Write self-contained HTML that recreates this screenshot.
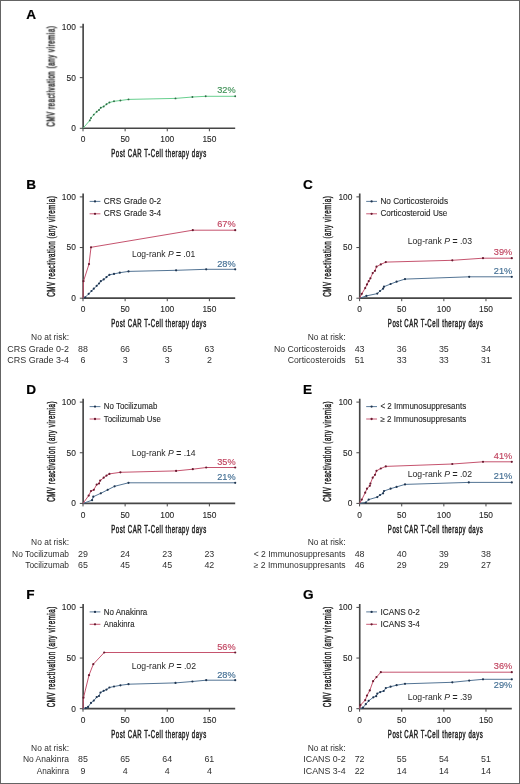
<!DOCTYPE html>
<html><head><meta charset="utf-8"><title>CMV reactivation</title>
<style>
html,body{margin:0;padding:0;background:#fff;}
body{width:520px;height:784px;overflow:hidden;}
svg{display:block;font-family:"Liberation Sans", sans-serif;will-change:transform;}
</style></head>
<body>
<svg width="520" height="784" viewBox="0 0 520 784">
<rect x="0.5" y="0.5" width="519" height="783" fill="#fff" stroke="#646464" stroke-width="1"/>
<text x="26.30" y="18.70" font-size="13.6" fill="#000" font-weight="bold" stroke="#000" stroke-width="0.2">A</text>
<path d="M83.13 23.70V128.20H235.20" fill="none" stroke="#464646" stroke-width="1.65"/>
<path d="M79.8 128.30H83.0" stroke="#464646" stroke-width="1"/>
<text x="75.8" y="131.20" font-size="8.4" fill="#262626" text-anchor="end" stroke="#262626" stroke-width="0.1">0</text>
<path d="M79.8 77.65H83.0" stroke="#464646" stroke-width="1"/>
<text x="75.8" y="80.55" font-size="8.4" fill="#262626" text-anchor="end" stroke="#262626" stroke-width="0.1">50</text>
<path d="M79.8 27.00H83.0" stroke="#464646" stroke-width="1"/>
<text x="75.8" y="29.90" font-size="8.4" fill="#262626" text-anchor="end" stroke="#262626" stroke-width="0.1">100</text>
<path d="M83.00 128.3V131.3" stroke="#464646" stroke-width="1"/>
<text x="83.00" y="142.40" font-size="8.4" fill="#262626" text-anchor="middle" stroke="#262626" stroke-width="0.1">0</text>
<path d="M125.12 128.3V131.3" stroke="#464646" stroke-width="1"/>
<text x="125.12" y="142.40" font-size="8.4" fill="#262626" text-anchor="middle" stroke="#262626" stroke-width="0.1">50</text>
<path d="M167.25 128.3V131.3" stroke="#464646" stroke-width="1"/>
<text x="167.25" y="142.40" font-size="8.4" fill="#262626" text-anchor="middle" stroke="#262626" stroke-width="0.1">100</text>
<path d="M209.38 128.3V131.3" stroke="#464646" stroke-width="1"/>
<text x="209.38" y="142.40" font-size="8.4" fill="#262626" text-anchor="middle" stroke="#262626" stroke-width="0.1">150</text>
<text x="159.00" y="157.40" font-size="10.6" fill="#222" stroke="#222" stroke-width="0.5" letter-spacing="1.0" text-anchor="middle" textLength="95.5" lengthAdjust="spacingAndGlyphs">Post CAR T-Cell therapy days</text>
<text transform="translate(54.60 76.25) rotate(-90)" x="0" y="0" font-size="11" fill="#222" stroke="#222" stroke-width="0.5" letter-spacing="1.0" text-anchor="middle" textLength="101" lengthAdjust="spacingAndGlyphs">CMV reactivation (any viremia)</text>
<path d="M83.00 128.30 L89.80 120.40 L91.00 118.00 L93.80 114.60 L96.70 111.70 L99.00 110.00 L100.80 107.70 L103.70 106.50 L106.50 104.20 L109.40 102.50 L114.00 101.30 L120.40 100.50 L128.50 99.40 L175.50 98.40 L192.40 97.00 L205.70 96.30 L235.20 96.30" fill="none" stroke="#5fcc88" stroke-width="0.95" stroke-linejoin="round"/>
<circle cx="89.80" cy="120.40" r="0.95" fill="#2e6b45"/>
<circle cx="91.00" cy="118.00" r="0.95" fill="#2e6b45"/>
<circle cx="93.80" cy="114.60" r="0.95" fill="#2e6b45"/>
<circle cx="96.70" cy="111.70" r="0.95" fill="#2e6b45"/>
<circle cx="99.00" cy="110.00" r="0.95" fill="#2e6b45"/>
<circle cx="100.80" cy="107.70" r="0.95" fill="#2e6b45"/>
<circle cx="103.70" cy="106.50" r="0.95" fill="#2e6b45"/>
<circle cx="106.50" cy="104.20" r="0.95" fill="#2e6b45"/>
<circle cx="109.40" cy="102.50" r="0.95" fill="#2e6b45"/>
<circle cx="114.00" cy="101.30" r="0.95" fill="#2e6b45"/>
<circle cx="120.40" cy="100.50" r="0.95" fill="#2e6b45"/>
<circle cx="128.50" cy="99.40" r="0.95" fill="#2e6b45"/>
<circle cx="175.50" cy="98.40" r="0.95" fill="#2e6b45"/>
<circle cx="192.40" cy="97.00" r="0.95" fill="#2e6b45"/>
<circle cx="205.70" cy="96.30" r="0.95" fill="#2e6b45"/>
<circle cx="235.20" cy="96.30" r="0.95" fill="#2e6b45"/>
<text x="235.60" y="92.90" font-size="9.8" fill="#419258" text-anchor="end" textLength="18.4" lengthAdjust="spacingAndGlyphs" stroke="#419258" stroke-width="0.15">32%</text>
<text x="26.30" y="188.60" font-size="13.6" fill="#000" font-weight="bold" stroke="#000" stroke-width="0.2">B</text>
<path d="M83.13 193.60V298.10H235.20" fill="none" stroke="#464646" stroke-width="1.65"/>
<path d="M79.8 298.20H83.0" stroke="#464646" stroke-width="1"/>
<text x="75.8" y="301.10" font-size="8.4" fill="#262626" text-anchor="end" stroke="#262626" stroke-width="0.1">0</text>
<path d="M79.8 247.55H83.0" stroke="#464646" stroke-width="1"/>
<text x="75.8" y="250.45" font-size="8.4" fill="#262626" text-anchor="end" stroke="#262626" stroke-width="0.1">50</text>
<path d="M79.8 196.90H83.0" stroke="#464646" stroke-width="1"/>
<text x="75.8" y="199.80" font-size="8.4" fill="#262626" text-anchor="end" stroke="#262626" stroke-width="0.1">100</text>
<path d="M83.00 298.2V301.2" stroke="#464646" stroke-width="1"/>
<text x="83.00" y="312.30" font-size="8.4" fill="#262626" text-anchor="middle" stroke="#262626" stroke-width="0.1">0</text>
<path d="M125.12 298.2V301.2" stroke="#464646" stroke-width="1"/>
<text x="125.12" y="312.30" font-size="8.4" fill="#262626" text-anchor="middle" stroke="#262626" stroke-width="0.1">50</text>
<path d="M167.25 298.2V301.2" stroke="#464646" stroke-width="1"/>
<text x="167.25" y="312.30" font-size="8.4" fill="#262626" text-anchor="middle" stroke="#262626" stroke-width="0.1">100</text>
<path d="M209.38 298.2V301.2" stroke="#464646" stroke-width="1"/>
<text x="209.38" y="312.30" font-size="8.4" fill="#262626" text-anchor="middle" stroke="#262626" stroke-width="0.1">150</text>
<text x="159.00" y="327.30" font-size="10.6" fill="#222" stroke="#222" stroke-width="0.5" letter-spacing="1.0" text-anchor="middle" textLength="95.5" lengthAdjust="spacingAndGlyphs">Post CAR T-Cell therapy days</text>
<text transform="translate(54.60 246.15) rotate(-90)" x="0" y="0" font-size="11" fill="#222" stroke="#222" stroke-width="0.5" letter-spacing="1.0" text-anchor="middle" textLength="101" lengthAdjust="spacingAndGlyphs">CMV reactivation (any viremia)</text>
<path d="M89.6 201.40H100.4" stroke="#4a6d8e" stroke-width="0.9"/>
<circle cx="95.0" cy="201.40" r="1.15" fill="#1f3550"/>
<text x="103.80" y="204.00" font-size="8.2" fill="#262626" textLength="57.4" lengthAdjust="spacingAndGlyphs" stroke="#262626" stroke-width="0.1">CRS Grade 0-2</text>
<path d="M89.6 213.80H100.4" stroke="#c24a66" stroke-width="0.9"/>
<circle cx="95.0" cy="213.80" r="1.15" fill="#6a1a30"/>
<text x="103.80" y="216.40" font-size="8.2" fill="#262626" textLength="57.4" lengthAdjust="spacingAndGlyphs" stroke="#262626" stroke-width="0.1">CRS Grade 3-4</text>
<text x="131.90" y="257.20" font-size="9.2" fill="#262626" textLength="63.3" lengthAdjust="spacingAndGlyphs">Log-rank <tspan font-style="italic">P</tspan> <tspan font-weight="bold">=</tspan> .01</text>
<path d="M83.00 298.20 L85.20 297.30 L88.70 293.80 L91.50 291.00 L93.80 288.70 L96.70 285.80 L99.00 283.50 L100.80 281.20 L103.70 279.40 L106.50 277.10 L109.40 274.80 L114.00 273.90 L119.80 272.70 L128.50 271.40 L176.10 270.30 L206.20 269.30 L235.20 269.30" fill="none" stroke="#4a6d8e" stroke-width="0.95" stroke-linejoin="round"/>
<circle cx="85.20" cy="297.30" r="1.1" fill="#1f3550"/>
<circle cx="88.70" cy="293.80" r="1.1" fill="#1f3550"/>
<circle cx="91.50" cy="291.00" r="1.1" fill="#1f3550"/>
<circle cx="93.80" cy="288.70" r="1.1" fill="#1f3550"/>
<circle cx="96.70" cy="285.80" r="1.1" fill="#1f3550"/>
<circle cx="99.00" cy="283.50" r="1.1" fill="#1f3550"/>
<circle cx="100.80" cy="281.20" r="1.1" fill="#1f3550"/>
<circle cx="103.70" cy="279.40" r="1.1" fill="#1f3550"/>
<circle cx="106.50" cy="277.10" r="1.1" fill="#1f3550"/>
<circle cx="109.40" cy="274.80" r="1.1" fill="#1f3550"/>
<circle cx="114.00" cy="273.90" r="1.1" fill="#1f3550"/>
<circle cx="119.80" cy="272.70" r="1.1" fill="#1f3550"/>
<circle cx="128.50" cy="271.40" r="1.1" fill="#1f3550"/>
<circle cx="176.10" cy="270.30" r="1.1" fill="#1f3550"/>
<circle cx="206.20" cy="269.30" r="1.1" fill="#1f3550"/>
<circle cx="235.20" cy="269.30" r="1.1" fill="#1f3550"/>
<path d="M83.00 298.20 L83.50 281.20 L89.00 264.10 L91.00 247.30 L192.80 230.20 L235.20 230.20" fill="none" stroke="#c24a66" stroke-width="0.95" stroke-linejoin="round"/>
<circle cx="83.50" cy="281.20" r="1.1" fill="#6a1a30"/>
<circle cx="89.00" cy="264.10" r="1.1" fill="#6a1a30"/>
<circle cx="91.00" cy="247.30" r="1.1" fill="#6a1a30"/>
<circle cx="192.80" cy="230.20" r="1.1" fill="#6a1a30"/>
<circle cx="235.20" cy="230.20" r="1.1" fill="#6a1a30"/>
<text x="235.60" y="227.40" font-size="9.8" fill="#c0435f" text-anchor="end" textLength="18.4" lengthAdjust="spacingAndGlyphs" stroke="#c0435f" stroke-width="0.15">67%</text>
<text x="235.60" y="267.00" font-size="9.8" fill="#416d92" text-anchor="end" textLength="18.4" lengthAdjust="spacingAndGlyphs" stroke="#416d92" stroke-width="0.15">28%</text>
<text x="69.0" y="340.10" font-size="8.9" fill="#303030" text-anchor="end" textLength="37.9" lengthAdjust="spacingAndGlyphs">No at risk:</text>
<text x="69.0" y="351.60" font-size="8.9" fill="#303030" text-anchor="end" textLength="61.7" lengthAdjust="spacingAndGlyphs">CRS Grade 0-2</text>
<text x="83.00" y="351.60" font-size="8.9" fill="#303030" text-anchor="middle">88</text>
<text x="125.12" y="351.60" font-size="8.9" fill="#303030" text-anchor="middle">66</text>
<text x="167.25" y="351.60" font-size="8.9" fill="#303030" text-anchor="middle">65</text>
<text x="209.38" y="351.60" font-size="8.9" fill="#303030" text-anchor="middle">63</text>
<text x="69.0" y="363.10" font-size="8.9" fill="#303030" text-anchor="end" textLength="61.7" lengthAdjust="spacingAndGlyphs">CRS Grade 3-4</text>
<text x="83.00" y="363.10" font-size="8.9" fill="#303030" text-anchor="middle">6</text>
<text x="125.12" y="363.10" font-size="8.9" fill="#303030" text-anchor="middle">3</text>
<text x="167.25" y="363.10" font-size="8.9" fill="#303030" text-anchor="middle">3</text>
<text x="209.38" y="363.10" font-size="8.9" fill="#303030" text-anchor="middle">2</text>
<text x="302.90" y="188.60" font-size="13.6" fill="#000" font-weight="bold" stroke="#000" stroke-width="0.2">C</text>
<path d="M359.73 193.60V298.10H511.80" fill="none" stroke="#464646" stroke-width="1.65"/>
<path d="M356.40000000000003 298.20H359.6" stroke="#464646" stroke-width="1"/>
<text x="352.40000000000003" y="301.10" font-size="8.4" fill="#262626" text-anchor="end" stroke="#262626" stroke-width="0.1">0</text>
<path d="M356.40000000000003 247.55H359.6" stroke="#464646" stroke-width="1"/>
<text x="352.40000000000003" y="250.45" font-size="8.4" fill="#262626" text-anchor="end" stroke="#262626" stroke-width="0.1">50</text>
<path d="M356.40000000000003 196.90H359.6" stroke="#464646" stroke-width="1"/>
<text x="352.40000000000003" y="199.80" font-size="8.4" fill="#262626" text-anchor="end" stroke="#262626" stroke-width="0.1">100</text>
<path d="M359.60 298.2V301.2" stroke="#464646" stroke-width="1"/>
<text x="359.60" y="312.30" font-size="8.4" fill="#262626" text-anchor="middle" stroke="#262626" stroke-width="0.1">0</text>
<path d="M401.73 298.2V301.2" stroke="#464646" stroke-width="1"/>
<text x="401.73" y="312.30" font-size="8.4" fill="#262626" text-anchor="middle" stroke="#262626" stroke-width="0.1">50</text>
<path d="M443.85 298.2V301.2" stroke="#464646" stroke-width="1"/>
<text x="443.85" y="312.30" font-size="8.4" fill="#262626" text-anchor="middle" stroke="#262626" stroke-width="0.1">100</text>
<path d="M485.98 298.2V301.2" stroke="#464646" stroke-width="1"/>
<text x="485.98" y="312.30" font-size="8.4" fill="#262626" text-anchor="middle" stroke="#262626" stroke-width="0.1">150</text>
<text x="435.60" y="327.30" font-size="10.6" fill="#222" stroke="#222" stroke-width="0.5" letter-spacing="1.0" text-anchor="middle" textLength="95.5" lengthAdjust="spacingAndGlyphs">Post CAR T-Cell therapy days</text>
<text transform="translate(331.20 246.15) rotate(-90)" x="0" y="0" font-size="11" fill="#222" stroke="#222" stroke-width="0.5" letter-spacing="1.0" text-anchor="middle" textLength="101" lengthAdjust="spacingAndGlyphs">CMV reactivation (any viremia)</text>
<path d="M366.20000000000005 201.40H377.0" stroke="#4a6d8e" stroke-width="0.9"/>
<circle cx="371.6" cy="201.40" r="1.15" fill="#1f3550"/>
<text x="380.40" y="204.00" font-size="8.2" fill="#262626" textLength="67.6" lengthAdjust="spacingAndGlyphs" stroke="#262626" stroke-width="0.1">No Corticosteroids</text>
<path d="M366.20000000000005 213.80H377.0" stroke="#c24a66" stroke-width="0.9"/>
<circle cx="371.6" cy="213.80" r="1.15" fill="#6a1a30"/>
<text x="380.40" y="216.40" font-size="8.2" fill="#262626" textLength="67.0" lengthAdjust="spacingAndGlyphs" stroke="#262626" stroke-width="0.1">Corticosteroid Use</text>
<text x="407.70" y="244.20" font-size="9.2" fill="#262626" textLength="64.3" lengthAdjust="spacingAndGlyphs">Log-rank <tspan font-style="italic">P</tspan> <tspan font-weight="bold">=</tspan> .03</text>
<path d="M359.60 298.20 L366.40 295.90 L377.30 293.60 L380.00 291.00 L383.10 288.70 L384.00 286.70 L390.60 284.00 L396.60 281.70 L405.00 279.10 L469.20 276.80 L511.80 276.80" fill="none" stroke="#4a6d8e" stroke-width="0.95" stroke-linejoin="round"/>
<circle cx="366.40" cy="295.90" r="1.1" fill="#1f3550"/>
<circle cx="377.30" cy="293.60" r="1.1" fill="#1f3550"/>
<circle cx="380.00" cy="291.00" r="1.1" fill="#1f3550"/>
<circle cx="383.10" cy="288.70" r="1.1" fill="#1f3550"/>
<circle cx="384.00" cy="286.70" r="1.1" fill="#1f3550"/>
<circle cx="390.60" cy="284.00" r="1.1" fill="#1f3550"/>
<circle cx="396.60" cy="281.70" r="1.1" fill="#1f3550"/>
<circle cx="405.00" cy="279.10" r="1.1" fill="#1f3550"/>
<circle cx="469.20" cy="276.80" r="1.1" fill="#1f3550"/>
<circle cx="511.80" cy="276.80" r="1.1" fill="#1f3550"/>
<path d="M359.60 298.20 L361.80 293.80 L365.20 288.10 L367.00 284.40 L368.70 281.20 L370.40 278.30 L372.70 273.10 L375.00 270.80 L376.50 266.70 L380.80 264.40 L385.80 262.10 L452.30 260.30 L483.00 258.20 L511.80 258.20" fill="none" stroke="#c24a66" stroke-width="0.95" stroke-linejoin="round"/>
<circle cx="361.80" cy="293.80" r="1.1" fill="#6a1a30"/>
<circle cx="365.20" cy="288.10" r="1.1" fill="#6a1a30"/>
<circle cx="367.00" cy="284.40" r="1.1" fill="#6a1a30"/>
<circle cx="368.70" cy="281.20" r="1.1" fill="#6a1a30"/>
<circle cx="370.40" cy="278.30" r="1.1" fill="#6a1a30"/>
<circle cx="372.70" cy="273.10" r="1.1" fill="#6a1a30"/>
<circle cx="375.00" cy="270.80" r="1.1" fill="#6a1a30"/>
<circle cx="376.50" cy="266.70" r="1.1" fill="#6a1a30"/>
<circle cx="380.80" cy="264.40" r="1.1" fill="#6a1a30"/>
<circle cx="385.80" cy="262.10" r="1.1" fill="#6a1a30"/>
<circle cx="452.30" cy="260.30" r="1.1" fill="#6a1a30"/>
<circle cx="483.00" cy="258.20" r="1.1" fill="#6a1a30"/>
<circle cx="511.80" cy="258.20" r="1.1" fill="#6a1a30"/>
<text x="512.20" y="255.20" font-size="9.8" fill="#c0435f" text-anchor="end" textLength="18.4" lengthAdjust="spacingAndGlyphs" stroke="#c0435f" stroke-width="0.15">39%</text>
<text x="512.20" y="273.80" font-size="9.8" fill="#416d92" text-anchor="end" textLength="18.4" lengthAdjust="spacingAndGlyphs" stroke="#416d92" stroke-width="0.15">21%</text>
<text x="345.6" y="340.10" font-size="8.9" fill="#303030" text-anchor="end" textLength="37.9" lengthAdjust="spacingAndGlyphs">No at risk:</text>
<text x="345.6" y="351.60" font-size="8.9" fill="#303030" text-anchor="end" textLength="71.7" lengthAdjust="spacingAndGlyphs">No Corticosteroids</text>
<text x="359.60" y="351.60" font-size="8.9" fill="#303030" text-anchor="middle">43</text>
<text x="401.73" y="351.60" font-size="8.9" fill="#303030" text-anchor="middle">36</text>
<text x="443.85" y="351.60" font-size="8.9" fill="#303030" text-anchor="middle">35</text>
<text x="485.98" y="351.60" font-size="8.9" fill="#303030" text-anchor="middle">34</text>
<text x="345.6" y="363.10" font-size="8.9" fill="#303030" text-anchor="end" textLength="57.9" lengthAdjust="spacingAndGlyphs">Corticosteroids</text>
<text x="359.60" y="363.10" font-size="8.9" fill="#303030" text-anchor="middle">51</text>
<text x="401.73" y="363.10" font-size="8.9" fill="#303030" text-anchor="middle">33</text>
<text x="443.85" y="363.10" font-size="8.9" fill="#303030" text-anchor="middle">33</text>
<text x="485.98" y="363.10" font-size="8.9" fill="#303030" text-anchor="middle">31</text>
<text x="26.30" y="393.80" font-size="13.6" fill="#000" font-weight="bold" stroke="#000" stroke-width="0.2">D</text>
<path d="M83.13 398.80V503.30H235.20" fill="none" stroke="#464646" stroke-width="1.65"/>
<path d="M79.8 503.40H83.0" stroke="#464646" stroke-width="1"/>
<text x="75.8" y="506.30" font-size="8.4" fill="#262626" text-anchor="end" stroke="#262626" stroke-width="0.1">0</text>
<path d="M79.8 452.75H83.0" stroke="#464646" stroke-width="1"/>
<text x="75.8" y="455.65" font-size="8.4" fill="#262626" text-anchor="end" stroke="#262626" stroke-width="0.1">50</text>
<path d="M79.8 402.10H83.0" stroke="#464646" stroke-width="1"/>
<text x="75.8" y="405.00" font-size="8.4" fill="#262626" text-anchor="end" stroke="#262626" stroke-width="0.1">100</text>
<path d="M83.00 503.40000000000003V506.40000000000003" stroke="#464646" stroke-width="1"/>
<text x="83.00" y="517.50" font-size="8.4" fill="#262626" text-anchor="middle" stroke="#262626" stroke-width="0.1">0</text>
<path d="M125.12 503.40000000000003V506.40000000000003" stroke="#464646" stroke-width="1"/>
<text x="125.12" y="517.50" font-size="8.4" fill="#262626" text-anchor="middle" stroke="#262626" stroke-width="0.1">50</text>
<path d="M167.25 503.40000000000003V506.40000000000003" stroke="#464646" stroke-width="1"/>
<text x="167.25" y="517.50" font-size="8.4" fill="#262626" text-anchor="middle" stroke="#262626" stroke-width="0.1">100</text>
<path d="M209.38 503.40000000000003V506.40000000000003" stroke="#464646" stroke-width="1"/>
<text x="209.38" y="517.50" font-size="8.4" fill="#262626" text-anchor="middle" stroke="#262626" stroke-width="0.1">150</text>
<text x="159.00" y="532.50" font-size="10.6" fill="#222" stroke="#222" stroke-width="0.5" letter-spacing="1.0" text-anchor="middle" textLength="95.5" lengthAdjust="spacingAndGlyphs">Post CAR T-Cell therapy days</text>
<text transform="translate(54.60 451.35) rotate(-90)" x="0" y="0" font-size="11" fill="#222" stroke="#222" stroke-width="0.5" letter-spacing="1.0" text-anchor="middle" textLength="101" lengthAdjust="spacingAndGlyphs">CMV reactivation (any viremia)</text>
<path d="M89.6 406.60H100.4" stroke="#4a6d8e" stroke-width="0.9"/>
<circle cx="95.0" cy="406.60" r="1.15" fill="#1f3550"/>
<text x="103.80" y="409.20" font-size="8.2" fill="#262626" textLength="53.5" lengthAdjust="spacingAndGlyphs" stroke="#262626" stroke-width="0.1">No Tocilizumab</text>
<path d="M89.6 419.00H100.4" stroke="#c24a66" stroke-width="0.9"/>
<circle cx="95.0" cy="419.00" r="1.15" fill="#6a1a30"/>
<text x="103.80" y="421.60" font-size="8.2" fill="#262626" textLength="57.0" lengthAdjust="spacingAndGlyphs" stroke="#262626" stroke-width="0.1">Tocilizumab Use</text>
<text x="131.70" y="455.90" font-size="9.2" fill="#262626" textLength="63.9" lengthAdjust="spacingAndGlyphs">Log-rank <tspan font-style="italic">P</tspan> <tspan font-weight="bold">=</tspan> .14</text>
<path d="M83.00 503.40 L92.10 500.20 L93.30 496.70 L100.80 493.30 L107.70 489.80 L114.60 486.30 L128.50 482.80 L235.20 482.80" fill="none" stroke="#4a6d8e" stroke-width="0.95" stroke-linejoin="round"/>
<circle cx="92.10" cy="500.20" r="1.1" fill="#1f3550"/>
<circle cx="93.30" cy="496.70" r="1.1" fill="#1f3550"/>
<circle cx="100.80" cy="493.30" r="1.1" fill="#1f3550"/>
<circle cx="107.70" cy="489.80" r="1.1" fill="#1f3550"/>
<circle cx="114.60" cy="486.30" r="1.1" fill="#1f3550"/>
<circle cx="128.50" cy="482.80" r="1.1" fill="#1f3550"/>
<circle cx="235.20" cy="482.80" r="1.1" fill="#1f3550"/>
<path d="M83.00 503.40 L88.70 495.60 L91.00 491.00 L93.80 489.80 L96.70 484.60 L99.00 483.50 L100.20 480.60 L103.70 477.70 L106.50 475.60 L109.40 473.90 L120.40 472.30 L176.10 470.90 L192.80 469.20 L206.20 467.50 L235.20 467.50" fill="none" stroke="#c24a66" stroke-width="0.95" stroke-linejoin="round"/>
<circle cx="88.70" cy="495.60" r="1.1" fill="#6a1a30"/>
<circle cx="91.00" cy="491.00" r="1.1" fill="#6a1a30"/>
<circle cx="93.80" cy="489.80" r="1.1" fill="#6a1a30"/>
<circle cx="96.70" cy="484.60" r="1.1" fill="#6a1a30"/>
<circle cx="99.00" cy="483.50" r="1.1" fill="#6a1a30"/>
<circle cx="100.20" cy="480.60" r="1.1" fill="#6a1a30"/>
<circle cx="103.70" cy="477.70" r="1.1" fill="#6a1a30"/>
<circle cx="106.50" cy="475.60" r="1.1" fill="#6a1a30"/>
<circle cx="109.40" cy="473.90" r="1.1" fill="#6a1a30"/>
<circle cx="120.40" cy="472.30" r="1.1" fill="#6a1a30"/>
<circle cx="176.10" cy="470.90" r="1.1" fill="#6a1a30"/>
<circle cx="192.80" cy="469.20" r="1.1" fill="#6a1a30"/>
<circle cx="206.20" cy="467.50" r="1.1" fill="#6a1a30"/>
<circle cx="235.20" cy="467.50" r="1.1" fill="#6a1a30"/>
<text x="235.60" y="464.80" font-size="9.8" fill="#c0435f" text-anchor="end" textLength="18.4" lengthAdjust="spacingAndGlyphs" stroke="#c0435f" stroke-width="0.15">35%</text>
<text x="235.60" y="479.80" font-size="9.8" fill="#416d92" text-anchor="end" textLength="18.4" lengthAdjust="spacingAndGlyphs" stroke="#416d92" stroke-width="0.15">21%</text>
<text x="69.0" y="545.30" font-size="8.9" fill="#303030" text-anchor="end" textLength="37.9" lengthAdjust="spacingAndGlyphs">No at risk:</text>
<text x="69.0" y="556.80" font-size="8.9" fill="#303030" text-anchor="end" textLength="56.9" lengthAdjust="spacingAndGlyphs">No Tocilizumab</text>
<text x="83.00" y="556.80" font-size="8.9" fill="#303030" text-anchor="middle">29</text>
<text x="125.12" y="556.80" font-size="8.9" fill="#303030" text-anchor="middle">24</text>
<text x="167.25" y="556.80" font-size="8.9" fill="#303030" text-anchor="middle">23</text>
<text x="209.38" y="556.80" font-size="8.9" fill="#303030" text-anchor="middle">23</text>
<text x="69.0" y="568.30" font-size="8.9" fill="#303030" text-anchor="end" textLength="43.8" lengthAdjust="spacingAndGlyphs">Tocilizumab</text>
<text x="83.00" y="568.30" font-size="8.9" fill="#303030" text-anchor="middle">65</text>
<text x="125.12" y="568.30" font-size="8.9" fill="#303030" text-anchor="middle">45</text>
<text x="167.25" y="568.30" font-size="8.9" fill="#303030" text-anchor="middle">45</text>
<text x="209.38" y="568.30" font-size="8.9" fill="#303030" text-anchor="middle">42</text>
<text x="302.90" y="393.80" font-size="13.6" fill="#000" font-weight="bold" stroke="#000" stroke-width="0.2">E</text>
<path d="M359.73 398.80V503.30H511.80" fill="none" stroke="#464646" stroke-width="1.65"/>
<path d="M356.40000000000003 503.40H359.6" stroke="#464646" stroke-width="1"/>
<text x="352.40000000000003" y="506.30" font-size="8.4" fill="#262626" text-anchor="end" stroke="#262626" stroke-width="0.1">0</text>
<path d="M356.40000000000003 452.75H359.6" stroke="#464646" stroke-width="1"/>
<text x="352.40000000000003" y="455.65" font-size="8.4" fill="#262626" text-anchor="end" stroke="#262626" stroke-width="0.1">50</text>
<path d="M356.40000000000003 402.10H359.6" stroke="#464646" stroke-width="1"/>
<text x="352.40000000000003" y="405.00" font-size="8.4" fill="#262626" text-anchor="end" stroke="#262626" stroke-width="0.1">100</text>
<path d="M359.60 503.40000000000003V506.40000000000003" stroke="#464646" stroke-width="1"/>
<text x="359.60" y="517.50" font-size="8.4" fill="#262626" text-anchor="middle" stroke="#262626" stroke-width="0.1">0</text>
<path d="M401.73 503.40000000000003V506.40000000000003" stroke="#464646" stroke-width="1"/>
<text x="401.73" y="517.50" font-size="8.4" fill="#262626" text-anchor="middle" stroke="#262626" stroke-width="0.1">50</text>
<path d="M443.85 503.40000000000003V506.40000000000003" stroke="#464646" stroke-width="1"/>
<text x="443.85" y="517.50" font-size="8.4" fill="#262626" text-anchor="middle" stroke="#262626" stroke-width="0.1">100</text>
<path d="M485.98 503.40000000000003V506.40000000000003" stroke="#464646" stroke-width="1"/>
<text x="485.98" y="517.50" font-size="8.4" fill="#262626" text-anchor="middle" stroke="#262626" stroke-width="0.1">150</text>
<text x="435.60" y="532.50" font-size="10.6" fill="#222" stroke="#222" stroke-width="0.5" letter-spacing="1.0" text-anchor="middle" textLength="95.5" lengthAdjust="spacingAndGlyphs">Post CAR T-Cell therapy days</text>
<text transform="translate(331.20 451.35) rotate(-90)" x="0" y="0" font-size="11" fill="#222" stroke="#222" stroke-width="0.5" letter-spacing="1.0" text-anchor="middle" textLength="101" lengthAdjust="spacingAndGlyphs">CMV reactivation (any viremia)</text>
<path d="M366.20000000000005 406.60H377.0" stroke="#4a6d8e" stroke-width="0.9"/>
<circle cx="371.6" cy="406.60" r="1.15" fill="#1f3550"/>
<text x="380.40" y="409.20" font-size="8.2" fill="#262626" textLength="85.8" lengthAdjust="spacingAndGlyphs" stroke="#262626" stroke-width="0.1">&lt; 2 Immunosuppresants</text>
<path d="M366.20000000000005 419.00H377.0" stroke="#c24a66" stroke-width="0.9"/>
<circle cx="371.6" cy="419.00" r="1.15" fill="#6a1a30"/>
<text x="380.40" y="421.60" font-size="8.2" fill="#262626" textLength="85.8" lengthAdjust="spacingAndGlyphs" stroke="#262626" stroke-width="0.1">&#8805; 2 Immunosuppresants</text>
<text x="407.70" y="476.60" font-size="9.2" fill="#262626" textLength="64.3" lengthAdjust="spacingAndGlyphs">Log-rank <tspan font-style="italic">P</tspan> <tspan font-weight="bold">=</tspan> .02</text>
<path d="M359.60 503.40 L365.80 502.50 L368.70 499.60 L377.30 497.10 L380.00 495.00 L383.10 493.30 L384.00 491.00 L390.60 488.70 L396.60 486.90 L405.00 484.40 L468.80 482.40 L511.80 482.40" fill="none" stroke="#4a6d8e" stroke-width="0.95" stroke-linejoin="round"/>
<circle cx="365.80" cy="502.50" r="1.1" fill="#1f3550"/>
<circle cx="368.70" cy="499.60" r="1.1" fill="#1f3550"/>
<circle cx="377.30" cy="497.10" r="1.1" fill="#1f3550"/>
<circle cx="380.00" cy="495.00" r="1.1" fill="#1f3550"/>
<circle cx="383.10" cy="493.30" r="1.1" fill="#1f3550"/>
<circle cx="384.00" cy="491.00" r="1.1" fill="#1f3550"/>
<circle cx="390.60" cy="488.70" r="1.1" fill="#1f3550"/>
<circle cx="396.60" cy="486.90" r="1.1" fill="#1f3550"/>
<circle cx="405.00" cy="484.40" r="1.1" fill="#1f3550"/>
<circle cx="468.80" cy="482.40" r="1.1" fill="#1f3550"/>
<circle cx="511.80" cy="482.40" r="1.1" fill="#1f3550"/>
<path d="M359.60 503.40 L361.80 499.60 L365.20 492.70 L367.00 488.70 L369.80 485.80 L370.40 483.50 L372.70 477.70 L375.00 474.80 L376.50 470.80 L380.80 468.50 L385.80 466.40 L452.30 464.00 L483.00 461.80 L511.80 461.80" fill="none" stroke="#c24a66" stroke-width="0.95" stroke-linejoin="round"/>
<circle cx="361.80" cy="499.60" r="1.1" fill="#6a1a30"/>
<circle cx="365.20" cy="492.70" r="1.1" fill="#6a1a30"/>
<circle cx="367.00" cy="488.70" r="1.1" fill="#6a1a30"/>
<circle cx="369.80" cy="485.80" r="1.1" fill="#6a1a30"/>
<circle cx="370.40" cy="483.50" r="1.1" fill="#6a1a30"/>
<circle cx="372.70" cy="477.70" r="1.1" fill="#6a1a30"/>
<circle cx="375.00" cy="474.80" r="1.1" fill="#6a1a30"/>
<circle cx="376.50" cy="470.80" r="1.1" fill="#6a1a30"/>
<circle cx="380.80" cy="468.50" r="1.1" fill="#6a1a30"/>
<circle cx="385.80" cy="466.40" r="1.1" fill="#6a1a30"/>
<circle cx="452.30" cy="464.00" r="1.1" fill="#6a1a30"/>
<circle cx="483.00" cy="461.80" r="1.1" fill="#6a1a30"/>
<circle cx="511.80" cy="461.80" r="1.1" fill="#6a1a30"/>
<text x="512.20" y="458.90" font-size="9.8" fill="#c0435f" text-anchor="end" textLength="18.4" lengthAdjust="spacingAndGlyphs" stroke="#c0435f" stroke-width="0.15">41%</text>
<text x="512.20" y="479.20" font-size="9.8" fill="#416d92" text-anchor="end" textLength="18.4" lengthAdjust="spacingAndGlyphs" stroke="#416d92" stroke-width="0.15">21%</text>
<text x="345.6" y="545.30" font-size="8.9" fill="#303030" text-anchor="end" textLength="37.9" lengthAdjust="spacingAndGlyphs">No at risk:</text>
<text x="345.6" y="556.80" font-size="8.9" fill="#303030" text-anchor="end" textLength="91.9" lengthAdjust="spacingAndGlyphs">&lt; 2 Immunosuppresants</text>
<text x="359.60" y="556.80" font-size="8.9" fill="#303030" text-anchor="middle">48</text>
<text x="401.73" y="556.80" font-size="8.9" fill="#303030" text-anchor="middle">40</text>
<text x="443.85" y="556.80" font-size="8.9" fill="#303030" text-anchor="middle">39</text>
<text x="485.98" y="556.80" font-size="8.9" fill="#303030" text-anchor="middle">38</text>
<text x="345.6" y="568.30" font-size="8.9" fill="#303030" text-anchor="end" textLength="91.9" lengthAdjust="spacingAndGlyphs">&#8805; 2 Immunosuppresants</text>
<text x="359.60" y="568.30" font-size="8.9" fill="#303030" text-anchor="middle">46</text>
<text x="401.73" y="568.30" font-size="8.9" fill="#303030" text-anchor="middle">29</text>
<text x="443.85" y="568.30" font-size="8.9" fill="#303030" text-anchor="middle">29</text>
<text x="485.98" y="568.30" font-size="8.9" fill="#303030" text-anchor="middle">27</text>
<text x="26.30" y="599.10" font-size="13.6" fill="#000" font-weight="bold" stroke="#000" stroke-width="0.2">F</text>
<path d="M83.13 604.10V708.60H235.20" fill="none" stroke="#464646" stroke-width="1.65"/>
<path d="M79.8 708.70H83.0" stroke="#464646" stroke-width="1"/>
<text x="75.8" y="711.60" font-size="8.4" fill="#262626" text-anchor="end" stroke="#262626" stroke-width="0.1">0</text>
<path d="M79.8 658.05H83.0" stroke="#464646" stroke-width="1"/>
<text x="75.8" y="660.95" font-size="8.4" fill="#262626" text-anchor="end" stroke="#262626" stroke-width="0.1">50</text>
<path d="M79.8 607.40H83.0" stroke="#464646" stroke-width="1"/>
<text x="75.8" y="610.30" font-size="8.4" fill="#262626" text-anchor="end" stroke="#262626" stroke-width="0.1">100</text>
<path d="M83.00 708.6999999999999V711.6999999999999" stroke="#464646" stroke-width="1"/>
<text x="83.00" y="722.80" font-size="8.4" fill="#262626" text-anchor="middle" stroke="#262626" stroke-width="0.1">0</text>
<path d="M125.12 708.6999999999999V711.6999999999999" stroke="#464646" stroke-width="1"/>
<text x="125.12" y="722.80" font-size="8.4" fill="#262626" text-anchor="middle" stroke="#262626" stroke-width="0.1">50</text>
<path d="M167.25 708.6999999999999V711.6999999999999" stroke="#464646" stroke-width="1"/>
<text x="167.25" y="722.80" font-size="8.4" fill="#262626" text-anchor="middle" stroke="#262626" stroke-width="0.1">100</text>
<path d="M209.38 708.6999999999999V711.6999999999999" stroke="#464646" stroke-width="1"/>
<text x="209.38" y="722.80" font-size="8.4" fill="#262626" text-anchor="middle" stroke="#262626" stroke-width="0.1">150</text>
<text x="159.00" y="737.80" font-size="10.6" fill="#222" stroke="#222" stroke-width="0.5" letter-spacing="1.0" text-anchor="middle" textLength="95.5" lengthAdjust="spacingAndGlyphs">Post CAR T-Cell therapy days</text>
<text transform="translate(54.60 656.65) rotate(-90)" x="0" y="0" font-size="11" fill="#222" stroke="#222" stroke-width="0.5" letter-spacing="1.0" text-anchor="middle" textLength="101" lengthAdjust="spacingAndGlyphs">CMV reactivation (any viremia)</text>
<path d="M89.6 611.90H100.4" stroke="#4a6d8e" stroke-width="0.9"/>
<circle cx="95.0" cy="611.90" r="1.15" fill="#1f3550"/>
<text x="103.80" y="614.50" font-size="8.2" fill="#262626" textLength="43.5" lengthAdjust="spacingAndGlyphs" stroke="#262626" stroke-width="0.1">No Anakinra</text>
<path d="M89.6 624.30H100.4" stroke="#c24a66" stroke-width="0.9"/>
<circle cx="95.0" cy="624.30" r="1.15" fill="#6a1a30"/>
<text x="103.80" y="626.90" font-size="8.2" fill="#262626" textLength="30.7" lengthAdjust="spacingAndGlyphs" stroke="#262626" stroke-width="0.1">Anakinra</text>
<text x="131.70" y="668.60" font-size="9.2" fill="#262626" textLength="64.3" lengthAdjust="spacingAndGlyphs">Log-rank <tspan font-style="italic">P</tspan> <tspan font-weight="bold">=</tspan> .02</text>
<path d="M83.00 708.70 L85.80 708.10 L88.10 706.90 L91.00 702.90 L93.80 700.60 L96.70 697.10 L99.00 696.00 L100.50 692.50 L103.70 690.80 L106.50 689.60 L109.40 687.50 L114.00 686.50 L120.40 685.30 L128.50 684.20 L175.50 682.90 L192.40 681.50 L206.20 680.20 L235.20 680.20" fill="none" stroke="#4a6d8e" stroke-width="0.95" stroke-linejoin="round"/>
<circle cx="85.80" cy="708.10" r="1.1" fill="#1f3550"/>
<circle cx="88.10" cy="706.90" r="1.1" fill="#1f3550"/>
<circle cx="91.00" cy="702.90" r="1.1" fill="#1f3550"/>
<circle cx="93.80" cy="700.60" r="1.1" fill="#1f3550"/>
<circle cx="96.70" cy="697.10" r="1.1" fill="#1f3550"/>
<circle cx="99.00" cy="696.00" r="1.1" fill="#1f3550"/>
<circle cx="100.50" cy="692.50" r="1.1" fill="#1f3550"/>
<circle cx="103.70" cy="690.80" r="1.1" fill="#1f3550"/>
<circle cx="106.50" cy="689.60" r="1.1" fill="#1f3550"/>
<circle cx="109.40" cy="687.50" r="1.1" fill="#1f3550"/>
<circle cx="114.00" cy="686.50" r="1.1" fill="#1f3550"/>
<circle cx="120.40" cy="685.30" r="1.1" fill="#1f3550"/>
<circle cx="128.50" cy="684.20" r="1.1" fill="#1f3550"/>
<circle cx="175.50" cy="682.90" r="1.1" fill="#1f3550"/>
<circle cx="192.40" cy="681.50" r="1.1" fill="#1f3550"/>
<circle cx="206.20" cy="680.20" r="1.1" fill="#1f3550"/>
<circle cx="235.20" cy="680.20" r="1.1" fill="#1f3550"/>
<path d="M83.00 708.70 L83.50 697.70 L89.00 675.20 L93.30 664.20 L104.20 652.50 L235.20 652.50" fill="none" stroke="#c24a66" stroke-width="0.95" stroke-linejoin="round"/>
<circle cx="83.50" cy="697.70" r="1.1" fill="#6a1a30"/>
<circle cx="89.00" cy="675.20" r="1.1" fill="#6a1a30"/>
<circle cx="93.30" cy="664.20" r="1.1" fill="#6a1a30"/>
<circle cx="104.20" cy="652.50" r="1.1" fill="#6a1a30"/>
<circle cx="235.20" cy="652.50" r="1.1" fill="#6a1a30"/>
<text x="235.60" y="650.20" font-size="9.8" fill="#c0435f" text-anchor="end" textLength="18.4" lengthAdjust="spacingAndGlyphs" stroke="#c0435f" stroke-width="0.15">56%</text>
<text x="235.60" y="677.70" font-size="9.8" fill="#416d92" text-anchor="end" textLength="18.4" lengthAdjust="spacingAndGlyphs" stroke="#416d92" stroke-width="0.15">28%</text>
<text x="69.0" y="750.60" font-size="8.9" fill="#303030" text-anchor="end" textLength="37.9" lengthAdjust="spacingAndGlyphs">No at risk:</text>
<text x="69.0" y="762.10" font-size="8.9" fill="#303030" text-anchor="end" textLength="46.1" lengthAdjust="spacingAndGlyphs">No Anakinra</text>
<text x="83.00" y="762.10" font-size="8.9" fill="#303030" text-anchor="middle">85</text>
<text x="125.12" y="762.10" font-size="8.9" fill="#303030" text-anchor="middle">65</text>
<text x="167.25" y="762.10" font-size="8.9" fill="#303030" text-anchor="middle">64</text>
<text x="209.38" y="762.10" font-size="8.9" fill="#303030" text-anchor="middle">61</text>
<text x="69.0" y="773.60" font-size="8.9" fill="#303030" text-anchor="end" textLength="32.3" lengthAdjust="spacingAndGlyphs">Anakinra</text>
<text x="83.00" y="773.60" font-size="8.9" fill="#303030" text-anchor="middle">9</text>
<text x="125.12" y="773.60" font-size="8.9" fill="#303030" text-anchor="middle">4</text>
<text x="167.25" y="773.60" font-size="8.9" fill="#303030" text-anchor="middle">4</text>
<text x="209.38" y="773.60" font-size="8.9" fill="#303030" text-anchor="middle">4</text>
<text x="302.90" y="599.10" font-size="13.6" fill="#000" font-weight="bold" stroke="#000" stroke-width="0.2">G</text>
<path d="M359.73 604.10V708.60H511.80" fill="none" stroke="#464646" stroke-width="1.65"/>
<path d="M356.40000000000003 708.70H359.6" stroke="#464646" stroke-width="1"/>
<text x="352.40000000000003" y="711.60" font-size="8.4" fill="#262626" text-anchor="end" stroke="#262626" stroke-width="0.1">0</text>
<path d="M356.40000000000003 658.05H359.6" stroke="#464646" stroke-width="1"/>
<text x="352.40000000000003" y="660.95" font-size="8.4" fill="#262626" text-anchor="end" stroke="#262626" stroke-width="0.1">50</text>
<path d="M356.40000000000003 607.40H359.6" stroke="#464646" stroke-width="1"/>
<text x="352.40000000000003" y="610.30" font-size="8.4" fill="#262626" text-anchor="end" stroke="#262626" stroke-width="0.1">100</text>
<path d="M359.60 708.6999999999999V711.6999999999999" stroke="#464646" stroke-width="1"/>
<text x="359.60" y="722.80" font-size="8.4" fill="#262626" text-anchor="middle" stroke="#262626" stroke-width="0.1">0</text>
<path d="M401.73 708.6999999999999V711.6999999999999" stroke="#464646" stroke-width="1"/>
<text x="401.73" y="722.80" font-size="8.4" fill="#262626" text-anchor="middle" stroke="#262626" stroke-width="0.1">50</text>
<path d="M443.85 708.6999999999999V711.6999999999999" stroke="#464646" stroke-width="1"/>
<text x="443.85" y="722.80" font-size="8.4" fill="#262626" text-anchor="middle" stroke="#262626" stroke-width="0.1">100</text>
<path d="M485.98 708.6999999999999V711.6999999999999" stroke="#464646" stroke-width="1"/>
<text x="485.98" y="722.80" font-size="8.4" fill="#262626" text-anchor="middle" stroke="#262626" stroke-width="0.1">150</text>
<text x="435.60" y="737.80" font-size="10.6" fill="#222" stroke="#222" stroke-width="0.5" letter-spacing="1.0" text-anchor="middle" textLength="95.5" lengthAdjust="spacingAndGlyphs">Post CAR T-Cell therapy days</text>
<text transform="translate(331.20 656.65) rotate(-90)" x="0" y="0" font-size="11" fill="#222" stroke="#222" stroke-width="0.5" letter-spacing="1.0" text-anchor="middle" textLength="101" lengthAdjust="spacingAndGlyphs">CMV reactivation (any viremia)</text>
<path d="M366.20000000000005 611.90H377.0" stroke="#4a6d8e" stroke-width="0.9"/>
<circle cx="371.6" cy="611.90" r="1.15" fill="#1f3550"/>
<text x="380.40" y="614.50" font-size="8.2" fill="#262626" textLength="39.5" lengthAdjust="spacingAndGlyphs" stroke="#262626" stroke-width="0.1">ICANS 0-2</text>
<path d="M366.20000000000005 624.30H377.0" stroke="#c24a66" stroke-width="0.9"/>
<circle cx="371.6" cy="624.30" r="1.15" fill="#6a1a30"/>
<text x="380.40" y="626.90" font-size="8.2" fill="#262626" textLength="39.5" lengthAdjust="spacingAndGlyphs" stroke="#262626" stroke-width="0.1">ICANS 3-4</text>
<text x="407.70" y="700.10" font-size="9.2" fill="#262626" textLength="64.3" lengthAdjust="spacingAndGlyphs">Log-rank <tspan font-style="italic">P</tspan> <tspan font-weight="bold">=</tspan> .39</text>
<path d="M359.60 708.70 L362.90 707.70 L365.80 704.20 L368.70 700.80 L373.30 697.30 L376.20 696.20 L377.30 693.60 L380.20 692.10 L383.70 691.00 L385.80 688.10 L390.60 686.70 L396.60 685.20 L405.00 683.80 L452.30 682.30 L469.20 680.60 L483.00 679.30 L511.80 679.30" fill="none" stroke="#4a6d8e" stroke-width="0.95" stroke-linejoin="round"/>
<circle cx="362.90" cy="707.70" r="1.1" fill="#1f3550"/>
<circle cx="365.80" cy="704.20" r="1.1" fill="#1f3550"/>
<circle cx="368.70" cy="700.80" r="1.1" fill="#1f3550"/>
<circle cx="373.30" cy="697.30" r="1.1" fill="#1f3550"/>
<circle cx="376.20" cy="696.20" r="1.1" fill="#1f3550"/>
<circle cx="377.30" cy="693.60" r="1.1" fill="#1f3550"/>
<circle cx="380.20" cy="692.10" r="1.1" fill="#1f3550"/>
<circle cx="383.70" cy="691.00" r="1.1" fill="#1f3550"/>
<circle cx="385.80" cy="688.10" r="1.1" fill="#1f3550"/>
<circle cx="390.60" cy="686.70" r="1.1" fill="#1f3550"/>
<circle cx="396.60" cy="685.20" r="1.1" fill="#1f3550"/>
<circle cx="405.00" cy="683.80" r="1.1" fill="#1f3550"/>
<circle cx="452.30" cy="682.30" r="1.1" fill="#1f3550"/>
<circle cx="469.20" cy="680.60" r="1.1" fill="#1f3550"/>
<circle cx="483.00" cy="679.30" r="1.1" fill="#1f3550"/>
<circle cx="511.80" cy="679.30" r="1.1" fill="#1f3550"/>
<path d="M359.60 708.70 L360.40 705.20 L365.20 700.20 L367.00 695.60 L369.80 690.40 L373.10 681.20 L376.50 677.10 L380.80 672.20 L511.80 672.20" fill="none" stroke="#c24a66" stroke-width="0.95" stroke-linejoin="round"/>
<circle cx="360.40" cy="705.20" r="1.1" fill="#6a1a30"/>
<circle cx="365.20" cy="700.20" r="1.1" fill="#6a1a30"/>
<circle cx="367.00" cy="695.60" r="1.1" fill="#6a1a30"/>
<circle cx="369.80" cy="690.40" r="1.1" fill="#6a1a30"/>
<circle cx="373.10" cy="681.20" r="1.1" fill="#6a1a30"/>
<circle cx="376.50" cy="677.10" r="1.1" fill="#6a1a30"/>
<circle cx="380.80" cy="672.20" r="1.1" fill="#6a1a30"/>
<circle cx="511.80" cy="672.20" r="1.1" fill="#6a1a30"/>
<text x="512.20" y="669.00" font-size="9.8" fill="#c0435f" text-anchor="end" textLength="18.4" lengthAdjust="spacingAndGlyphs" stroke="#c0435f" stroke-width="0.15">36%</text>
<text x="512.20" y="688.20" font-size="9.8" fill="#416d92" text-anchor="end" textLength="18.4" lengthAdjust="spacingAndGlyphs" stroke="#416d92" stroke-width="0.15">29%</text>
<text x="345.6" y="750.60" font-size="8.9" fill="#303030" text-anchor="end" textLength="37.9" lengthAdjust="spacingAndGlyphs">No at risk:</text>
<text x="345.6" y="762.10" font-size="8.9" fill="#303030" text-anchor="end" textLength="42.3" lengthAdjust="spacingAndGlyphs">ICANS 0-2</text>
<text x="359.60" y="762.10" font-size="8.9" fill="#303030" text-anchor="middle">72</text>
<text x="401.73" y="762.10" font-size="8.9" fill="#303030" text-anchor="middle">55</text>
<text x="443.85" y="762.10" font-size="8.9" fill="#303030" text-anchor="middle">54</text>
<text x="485.98" y="762.10" font-size="8.9" fill="#303030" text-anchor="middle">51</text>
<text x="345.6" y="773.60" font-size="8.9" fill="#303030" text-anchor="end" textLength="42.3" lengthAdjust="spacingAndGlyphs">ICANS 3-4</text>
<text x="359.60" y="773.60" font-size="8.9" fill="#303030" text-anchor="middle">22</text>
<text x="401.73" y="773.60" font-size="8.9" fill="#303030" text-anchor="middle">14</text>
<text x="443.85" y="773.60" font-size="8.9" fill="#303030" text-anchor="middle">14</text>
<text x="485.98" y="773.60" font-size="8.9" fill="#303030" text-anchor="middle">14</text>
</svg>
</body></html>
